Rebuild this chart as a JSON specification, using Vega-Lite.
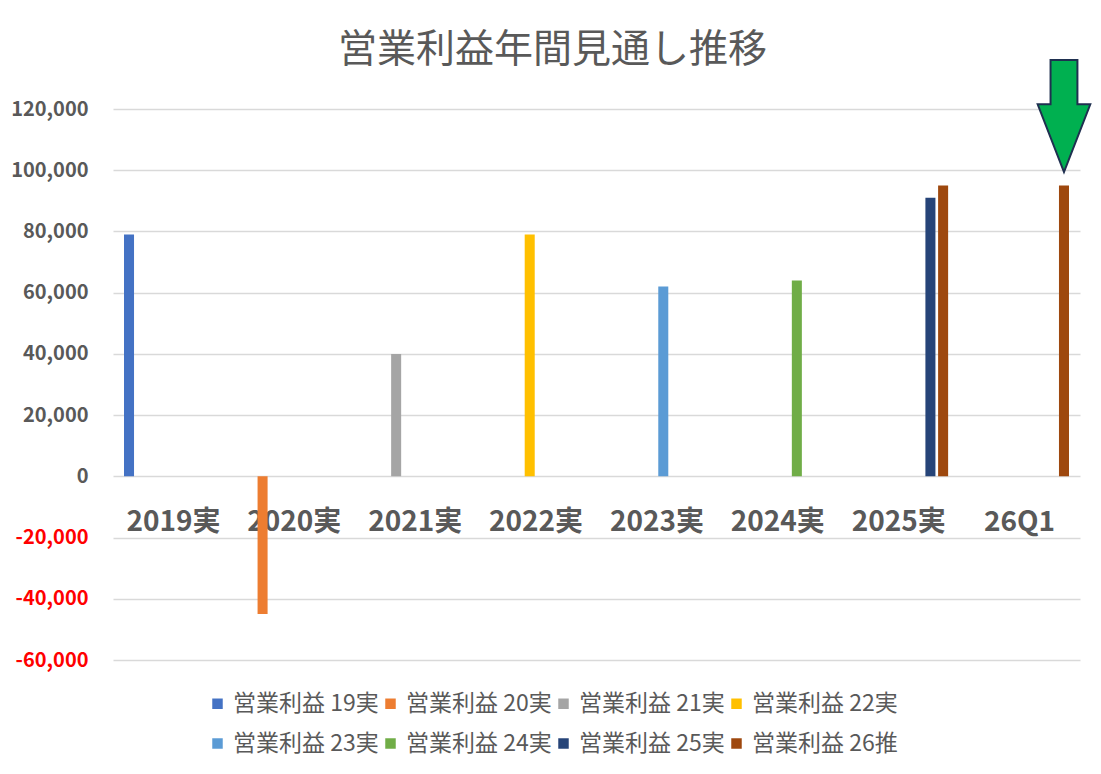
{
  "$schema": "https://vega.github.io/schema/vega-lite/v6.json",
  "width": 967,
  "height": 551,
  "autosize": {"type": "none"},
  "padding": {"left": 113, "top": 109, "right": 21, "bottom": 114},
  "background": "white",
  "title": {
    "text": "営業利益年間見通し推移",
    "fontSize": 39,
    "fontWeight": "normal",
    "font": "Noto Sans CJK JP",
    "color": "#595959",
    "anchor": "middle",
    "frame": "bounds",
    "offset": -14
  },
  "datasets": {
    "bars": [
      {"category": "2019実", "series": "営業利益 19実", "value": 79000},
      {"category": "2020実", "series": "営業利益 20実", "value": -45000},
      {"category": "2021実", "series": "営業利益 21実", "value": 40000},
      {"category": "2022実", "series": "営業利益 22実", "value": 79000},
      {"category": "2023実", "series": "営業利益 23実", "value": 62000},
      {"category": "2024実", "series": "営業利益 24実", "value": 64000},
      {"category": "2025実", "series": "営業利益 25実", "value": 91000},
      {"category": "2025実", "series": "営業利益 26推", "value": 95000},
      {"category": "26Q1", "series": "営業利益 26推", "value": 95000}
    ],
    "arrow": [
      {"category": "26Q1", "series": "営業利益 26推", "value": 117700}
    ]
  },
  "encoding": {
    "x": {
      "field": "category",
      "type": "nominal",
      "sort": null,
      "scale": {
        "domain": ["2019実", "2020実", "2021実", "2022実", "2023実", "2024実", "2025実", "26Q1"],
        "paddingInner": 0.16,
        "paddingOuter": 0.08
      },
      "axis": {
        "title": null,
        "orient": "bottom",
        "offset": -184,
        "domain": false,
        "ticks": false,
        "labelAngle": 0,
        "labelPadding": 32,
        "labelFont": "Noto Sans CJK JP",
        "labelFontSize": 28,
        "labelFontWeight": "bold",
        "labelColor": "#595959"
      }
    },
    "xOffset": {
      "field": "series",
      "type": "nominal",
      "scale": {
        "domain": ["営業利益 19実", "営業利益 20実", "営業利益 21実", "営業利益 22実", "営業利益 23実", "営業利益 24実", "営業利益 25実", "営業利益 26推"],
        "paddingInner": 0.21,
        "paddingOuter": 0.105
      }
    },
    "y": {
      "field": "value",
      "type": "quantitative",
      "scale": {"domain": [-60000, 120000], "nice": false, "zero": false},
      "axis": {
        "title": null,
        "values": [-60000, -40000, -20000, 0, 20000, 40000, 60000, 80000, 100000, 120000],
        "labelExpr": "(datum.value < 0 ? '-' : '') + format(abs(datum.value), ',')",
        "domain": false,
        "ticks": false,
        "labelPadding": 25,
        "labelFont": "Noto Sans CJK JP",
        "labelFontSize": 20,
        "labelFontWeight": "bold",
        "labelColor": {"condition": {"test": "datum.value < 0", "value": "#FF0000"}, "value": "#595959"},
        "gridColor": "#D9D9D9",
        "gridWidth": 1.3
      }
    }
  },
  "layer": [
    {
      "data": {"name": "bars"},
      "mark": {"type": "bar"},
      "encoding": {
        "color": {
          "field": "series",
          "type": "nominal",
          "scale": {
            "domain": ["営業利益 19実", "営業利益 20実", "営業利益 21実", "営業利益 22実", "営業利益 23実", "営業利益 24実", "営業利益 25実", "営業利益 26推"],
            "range": ["#4472C4", "#ED7D31", "#A5A5A5", "#FFC000", "#5B9BD5", "#70AD47", "#264478", "#9E480E"]
          },
          "legend": {
            "title": null,
            "orient": "none",
            "legendX": 93,
            "legendY": 583,
            "direction": "horizontal",
            "columns": 4,
            "columnPadding": 0,
            "rowPadding": 16,
            "symbolType": "square",
            "symbolSize": 110,
            "symbolStrokeWidth": 0,
            "symbolOffset": 0,
            "labelFont": "Noto Sans CJK JP",
            "labelFontSize": 23,
            "labelColor": "#595959",
            "labelOffset": 4,
            "labelLimit": 300
          }
        }
      }
    },
    {
      "data": {"name": "arrow"},
      "mark": {
        "type": "point",
        "shape": "M-0.24,-1 L0.24,-1 L0.24,-0.21 L0.47,-0.21 L0,1 L-0.47,-0.21 L-0.24,-0.21 Z",
        "filled": true,
        "fill": "#00B050",
        "stroke": "#1F3050",
        "strokeWidth": 2,
        "opacity": 1,
        "size": 12544
      }
    }
  ],
  "config": {
    "view": {"stroke": null},
    "font": "Noto Sans CJK JP"
  }
}
